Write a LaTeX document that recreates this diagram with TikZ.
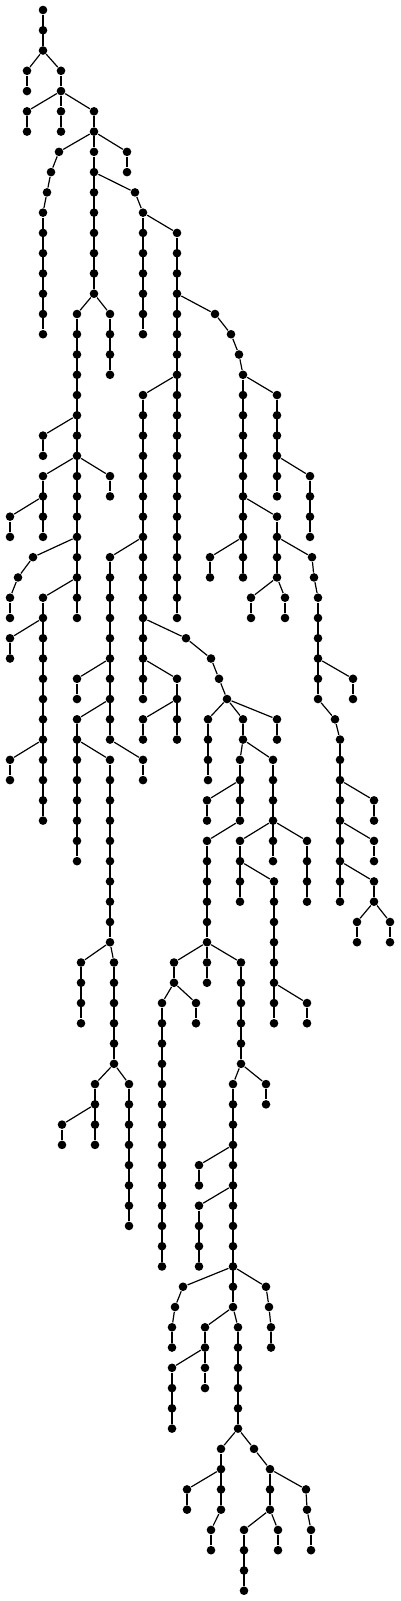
\documentclass[tikz,border=0pt]{standalone}
\usepackage{tikz}

\tikzset{vtx/.style={circle,fill=black,inner sep=0pt,minimum size=2.15mm}}
\newcommand{\vchain}[4]{%
  \foreach \i in {#3,...,#4}{\node[vtx] (#1\i) at (#2,\i) {};}
  \draw (#1#3) -- (#1#4);}

\begin{document}
\begin{tikzpicture}[x=0.25mm, y=-5.06625mm, line width=0.85pt]
    \useasboundingbox (0,-0.4935) rectangle (400,78.5065);
    \vchain{A}{43}{0}{2}
    \vchain{B}{27}{3}{4}
    \vchain{C}{61}{3}{4}
    \vchain{D}{27}{5}{6}
    \vchain{E}{61}{5}{6}
    \vchain{F}{94}{5}{6}
    \vchain{G}{43}{10}{16}
    \vchain{H}{94}{7}{14}
    \vchain{I}{127}{7}{8}
    \vchain{J}{143}{10}{16}
    \vchain{K}{177}{11}{30}
    \vchain{M}{143}{19}{34}
    \vchain{N}{110}{27}{36}
    \vchain{P}{77}{33}{34}
    \vchain{Q}{77}{35}{42}
    \vchain{R}{110}{37}{46}
    \vchain{S}{114}{47}{52}
    \vchain{T}{81}{47}{50}
    \vchain{U}{95}{53}{56}
    \vchain{V}{62}{55}{56}
    \vchain{W}{129}{53}{60}
    \vchain{X}{143}{37}{38}
    \vchain{Y}{177}{33}{36}
    \vchain{Z}{143}{35}{36}
    \vchain{AA}{208}{35}{38}
    \vchain{AB}{243}{35}{36}
    \vchain{AC}{277}{35}{36}
    \vchain{AD}{240}{37}{40}
    \vchain{AE}{207}{39}{40}
    \vchain{AF}{207}{41}{46}
    \vchain{AG}{174}{47}{48}
    \vchain{AH}{162}{49}{62}
    \vchain{AI}{196}{49}{50}
    \vchain{AJ}{207}{47}{48}
    \vchain{AK}{241}{47}{52}
    \vchain{AL}{233}{53}{64}
    \vchain{AM}{266}{53}{54}
    \vchain{AN}{199}{57}{58}
    \vchain{AO}{199}{59}{62}
    \vchain{AP}{205}{65}{66}
    \vchain{AQ}{172}{67}{70}
    \vchain{AR}{205}{67}{68}
    \vchain{AS}{238}{65}{70}
    \vchain{AT}{221}{71}{74}
    \vchain{AU}{187}{73}{74}
    \vchain{AV}{211}{75}{76}
    \vchain{AW}{270}{72}{74}
    \vchain{AX}{244}{75}{78}
    \vchain{AY}{278}{75}{76}
    \vchain{BA}{243}{18}{28}
    \vchain{BB}{277}{19}{24}
    \vchain{BC}{310}{23}{26}
    \vchain{BD}{277}{25}{28}
    \vchain{BE}{210}{27}{28}
    \vchain{BF}{251}{29}{30}
    \vchain{BG}{285}{29}{30}
    \vchain{BH}{318}{29}{34}
    \vchain{BI}{353}{33}{34}
    \vchain{BJ}{340}{36}{44}
    \vchain{BK}{374}{39}{40}
    \vchain{BL}{374}{41}{42}
    \vchain{BM}{374}{43}{44}
    \vchain{BN}{357}{45}{46}
    \vchain{BO}{390}{45}{46}
    \vchain{BP}{273}{37}{42}
    \vchain{BQ}{240}{41}{44}
    \vchain{BR}{274}{43}{50}
    \vchain{BS}{307}{49}{50}
    \vchain{BT}{307}{41}{44}
    \vchain{CA}{77}{15}{30}
    \vchain{CB}{110}{15}{18}
    \vchain{CC}{43}{21}{22}
    \vchain{CD}{43}{23}{26}
    \vchain{CE}{110}{23}{24}
    \vchain{CF}{10}{25}{26}
    \vchain{CG}{10}{29}{30}
    \vchain{CH}{43}{29}{40}
    \vchain{CI}{10}{31}{32}
    \vchain{CJ}{10}{37}{38}
    \node[vtx] (g7) at (59,7) {};
    \node[vtx] (g8) at (51,8) {};
    \node[vtx] (g9) at (47,9) {};
    \node[vtx] (j9) at (135,9) {};
    \node[vtx] (u15) at (215,15) {};
    \node[vtx] (u16) at (231,16) {};
    \node[vtx] (u17) at (239,17) {};
    \node[vtx] (x27) at (33,27) {};
    \node[vtx] (x28) at (18,28) {};
    \node[vtx] (v27) at (312,27) {};
    \node[vtx] (v28) at (314,28) {};
    \node[vtx] (o31) at (186,31) {};
    \node[vtx] (o32) at (211,32) {};
    \node[vtx] (o33) at (219,33) {};
    \node[vtx] (o34) at (227,34) {};
    \node[vtx] (w35) at (335,35) {};
    \node[vtx] (q63) at (183,63) {};
    \node[vtx] (q64) at (175,64) {};
    \node[vtx] (q65) at (172,65) {};
    \node[vtx] (q66) at (172,66) {};
    \node[vtx] (r63) at (266,63) {};
    \node[vtx] (r64) at (269,64) {};
    \node[vtx] (r65) at (271,65) {};
    \node[vtx] (r66) at (271,66) {};
    \node[vtx] (s71) at (254,71) {};
    \node[vtx] (t73) at (306,73) {};
    \node[vtx] (t74) at (307,74) {};
    \node[vtx] (t75) at (311,75) {};
    \node[vtx] (t76) at (311,76) {};
    \foreach \p/\c in {A2/B3, A2/C3, C4/D5, C4/E5, C4/F5, F6/g7, g7/g8, g8/g9, g9/G10,
        F6/H7, F6/I7, H8/j9, j9/J10, J10/K11, K18/M19, M26/N27, N32/P33, N34/Q35,
        Q36/R37, R46/S47, R46/T47, S52/U53, S52/W53, U54/V55, N36/X37, M32/Y33,
        Y34/Z35, M30/o31, o31/o32, o32/o33, o33/o34, o34/AA35, o34/AB35, o34/AC35,
        AB36/AD37, AB36/BP37, AD38/AE39, AD40/AF41, AF46/AG47, AF46/AJ47, AF46/AK47,
        AG48/AH49, AG48/AI49, AK52/AL53, AK52/AM53, AL56/AN57, AL58/AO59,
        AL62/q63, q63/q64, q64/q65, q65/q66, AL62/r63, r63/r64, r64/r65, r65/r66,
        AL64/AP65, AL64/AS65, AP66/AQ67, AP66/AR67, AS70/AT71, AS70/s71, s71/AW72,
        AT72/AU73, AT74/AV75, AW74/AX75, AW74/AY75, AW72/t73, t73/t74, t74/t75, t75/t76,
        K14/u15, u15/u16, u16/u17, u17/BA18, BA18/BB19, BB22/BC23, BA24/BD25, BA26/BE27,
        BD28/BF29, BD28/BG29, BD26/v27, v27/v28, v28/BH29, BH32/BI33, BH34/w35, w35/BJ36,
        BJ38/BK39, BJ40/BL41, BJ42/BM43, BM44/BN45, BM44/BO45, BP40/BQ41, BP40/BT41,
        BQ42/BR43, BR48/BS49, H14/CA15, H14/CB15, CA20/CC21, CA22/CD23, CA22/CE23,
        CD24/CF25, CA26/x27, x27/x28, x28/CG29, CA28/CH29, CH30/CI31, CH36/CJ37}
        \draw (\p) -- (\c);
\end{tikzpicture}
\end{document}
